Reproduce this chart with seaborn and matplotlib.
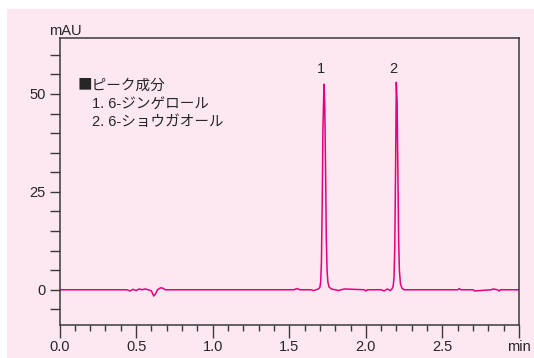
import matplotlib
matplotlib.use("Agg")
import matplotlib.pyplot as plt
from matplotlib.patches import Rectangle
from matplotlib.ticker import MultipleLocator, FixedLocator
import pandas as pd
import seaborn as sns

# chromatogram trace (time in min, signal in mAU)
time_min = [0.00, 0.44, 0.46, 0.48, 0.50, 0.52, 0.54, 0.56, 0.58, 0.60, 0.615, 0.625,
            0.64, 0.66, 0.675, 0.69, 0.72, 1.53, 1.55, 1.57, 1.64, 1.66, 1.69, 1.700,
            1.705, 1.710, 1.715, 1.720, 1.727, 1.732, 1.737, 1.742, 1.747, 1.752,
            1.760, 1.775, 1.80, 1.82, 1.84, 1.86, 1.99, 2.00, 2.01, 2.10, 2.12, 2.14,
            2.16, 2.170, 2.178, 2.184, 2.189, 2.194, 2.199, 2.204, 2.209, 2.214,
            2.219, 2.226, 2.236, 2.25, 2.60, 2.61, 2.62, 2.70, 2.71, 2.82, 2.83,
            2.86, 2.87, 2.88, 3.00]
signal = [0.0, 0.0, -0.3, 0.1, -0.2, 0.2, 0.0, 0.2, 0.0, -0.3, -1.6, -1.2,
          0.0, 0.5, 0.4, 0.0, 0.0, 0.0, 0.3, 0.0, 0.0, -0.2, 0.2, 0.6,
          2.0, 7.0, 21.0, 41.0, 52.5, 47.0, 31.0, 13.0, 5.0, 2.0,
          0.7, 0.2, 0.0, -0.2, 0.0, 0.2, 0.0, -0.3, 0.0, 0.0, -0.3, 0.2,
          -0.2, 0.2, 0.8, 3.0, 11.0, 30.0, 53.0, 48.0, 31.0, 13.0,
          5.0, 1.5, 0.4, 0.0, 0.0, 0.3, 0.0, 0.0, -0.3, 0.0, 0.2,
          0.0, -0.3, 0.0, 0.0]

peak_labels = ["1", "2"]
peak_times = [1.727, 2.199]
legend_title = "■ピーク成分"
compounds = ["1. 6-ジンゲロール", "2. 6-ショウガオール"]

x_ticks = [0.0, 0.5, 1.0, 1.5, 2.0, 2.5, 3.0]
x_tick_labels = ["0.0", "0.5", "1.0", "1.5", "2.0", "2.5", "min"]
y_ticks = [0, 25, 50]

sns.set_style("ticks")
plt.rcParams["font.family"] = ["Liberation Sans", "Noto Sans CJK JP", "DejaVu Sans"]

pink = "#fde7f0"
line_color = "#e5007f"
frame_color = "#3a3a3a"
text_color = "#262626"

fig = plt.figure(figsize=(5.34, 3.58), dpi=100)
fig.patch.set_facecolor("white")
fig.patches.append(Rectangle((7 / 534, 0), 1, 1 - 9 / 358, transform=fig.transFigure,
                             facecolor=pink, edgecolor="none", zorder=-10))
ax = fig.add_axes([59.5 / 534, 1 - 325 / 358, (519 - 59.5) / 534, (325 - 38) / 358])
ax.set_facecolor(pink)

df = pd.DataFrame({"time": time_min, "mAU": signal})
sns.lineplot(data=df, x="time", y="mAU", color=line_color, linewidth=1.1, ax=ax)

ax.set_xlim(0, 3.0)
ax.set_ylim(-9, 64.3)
ax.set_xlabel("")
ax.set_ylabel("")

ax.xaxis.set_major_locator(FixedLocator(x_ticks))
ax.set_xticklabels(x_tick_labels)
ax.xaxis.set_minor_locator(MultipleLocator(0.1))
ax.yaxis.set_major_locator(FixedLocator(y_ticks))
ax.yaxis.set_minor_locator(MultipleLocator(5))

ax.tick_params(axis="x", which="major", direction="out", length=9, width=1.0,
               color=frame_color, labelsize=10.5, labelcolor=text_color, pad=2)
ax.tick_params(axis="x", which="minor", direction="out", length=4.5, width=1.0,
               color=frame_color)
ax.tick_params(axis="y", which="both", direction="out", length=7, width=1.0,
               color=frame_color, labelsize=10.5, labelcolor=text_color, pad=3)

for sp in ax.spines.values():
    sp.set_visible(True)
    sp.set_color(frame_color)
    sp.set_linewidth(1.1)

fig.text(49 / 534, 1 - 31 / 358, "mAU", fontsize=10.5, color=text_color,
         va="center", ha="left")

for lab, t in zip(peak_labels, peak_times):
    ax.text(t - 0.02, 56.5, lab, fontsize=10.5, color=text_color, ha="center", va="center")

ax.text(0.04, 0.835, legend_title, transform=ax.transAxes, fontsize=10.5,
        family=["Noto Sans CJK JP", "DejaVu Sans"], color=text_color,
        ha="left", va="center")
for i, name in enumerate(compounds):
    ax.text(0.07, 0.772 - i * 0.066, name, transform=ax.transAxes, fontsize=10.5,
            color=text_color, ha="left", va="center")

fig.savefig("out.png", dpi=100, facecolor=fig.get_facecolor())
